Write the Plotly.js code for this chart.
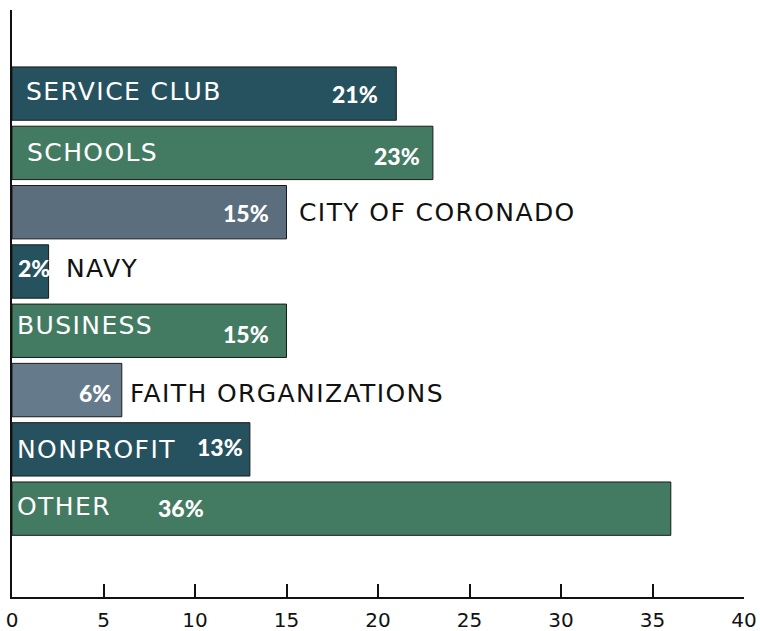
<!DOCTYPE html>
<html>
<head>
<meta charset="utf-8">
<script src="https://cdn.plot.ly/plotly-3.0.1.min.js"></script>
<style>
  html, body { margin: 0; padding: 0; background: #fff; }
  #chart { width: 760px; height: 631px; }
  /* Gotham-like width for the category names */
  text.annotation-text[style*="DejaVu"] { letter-spacing: 1.4px; }
</style>
</head>
<body>
<div id="chart"></div>
<script>
// Share of volunteers by organisation type (top to bottom as drawn)
const categories = ['SERVICE CLUB', 'SCHOOLS', 'CITY OF CORONADO', 'NAVY', 'BUSINESS', 'FAITH ORGANIZATIONS', 'NONPROFIT', 'OTHER'];
const values = [21, 23, 15, 2, 15, 6, 13, 36];
const barColors = ['#26525f', '#437b62', '#5a6e7d', '#26525f', '#437b62', '#657a8a', '#26525f', '#437b62'];
// which names sit inside the bar (white) vs after it (black)
const nameInside = [true, true, false, false, true, false, true, true];

// label nudges in px
const nameDx = [12, 13, 10, 15, 3, 6, 3, 3];
const nameDy = [2, 0, 0, 3, 5, -3, 0, 2];
const pctDx = [-16, -11, -16, 3, -16, -9, -5, -465];
const pctDy = [0, -3, -1, 3, -3, -3, 2, 1];

const NAME_FONT = '"DejaVu Sans", sans-serif';
const PCT_FONT = 'Lato, sans-serif';

const data = [{
    type: 'bar',
    orientation: 'h',
    x: values,
    y: categories,
    marker: { color: barColors, line: { color: '#1a1a1a', width: 1 } },
    hoverinfo: 'x+y',
    showlegend: false
}];

const annotations = [];
categories.forEach((cat, i) => {
    const inside = nameInside[i];
    annotations.push({
        x: inside ? 0 : values[i],
        y: cat,
        xref: 'x', yref: 'y',
        text: cat,
        showarrow: false,
        xanchor: 'left',
        xshift: nameDx[i],
        yshift: nameDy[i],
        font: { family: NAME_FONT, size: 25, color: inside ? '#ffffff' : '#111111' }
    });
    annotations.push({
        x: values[i],
        y: cat,
        xref: 'x', yref: 'y',
        text: values[i] + '%',
        showarrow: false,
        xanchor: 'right',
        xshift: pctDx[i],
        yshift: pctDy[i],
        font: { family: PCT_FONT, size: 23, weight: 900, color: '#ffffff' }
    });
});

const layout = {
    width: 760,
    height: 631,
    margin: { l: 12, r: 16, t: 10, b: 34 },
    paper_bgcolor: '#ffffff',
    plot_bgcolor: '#ffffff',
    bargap: 0.1,
    font: { family: NAME_FONT, color: '#111111' },
    xaxis: {
        range: [0, 40],
        tickvals: [0, 5, 10, 15, 20, 25, 30, 35, 40],
        ticks: 'inside',
        ticklen: 13,
        tickwidth: 1.5,
        tickcolor: '#111111',
        ticklabelstandoff: 4,
        showline: true,
        linecolor: '#111111',
        linewidth: 1.5,
        showgrid: false,
        zeroline: false,
        tickfont: { family: NAME_FONT, size: 20, color: '#111111' },
        fixedrange: true
    },
    yaxis: {
        type: 'category',
        autorange: false,
        range: [8.49, -1.41],
        showticklabels: false,
        ticks: '',
        showline: true,
        linecolor: '#111111',
        linewidth: 1.5,
        showgrid: false,
        zeroline: false,
        fixedrange: true
    },
    annotations: annotations
};

Plotly.newPlot('chart', data, layout, { displayModeBar: false, responsive: false });
</script>
</body>
</html>
